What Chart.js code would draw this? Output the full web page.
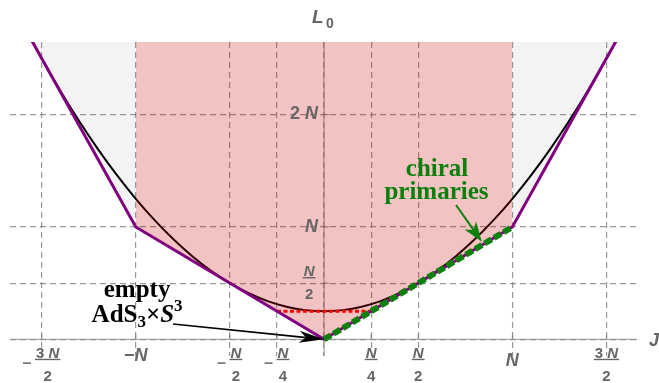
<!DOCTYPE html>
<html><head><meta charset="utf-8">
<script src="https://cdn.jsdelivr.net/npm/chart.js@4.4.0/dist/chart.umd.min.js"></script>
<style>html,body{margin:0;padding:0;background:#fff}canvas{display:block}</style>
</head><body>
<canvas id="c" width="659" height="383"></canvas>
<script>
// All values in units of N
const xGridValues = [-1.5, -1, -0.5, -0.25, 0, 0.25, 0.5, 1, 1.5];
const yGridValues = [0, 0.5, 1, 2];
const xTickValues = [-1.5, -1, -0.5, -0.25, 0.25, 0.5, 1, 1.5];
const xTickLabels = ['−3 N/2', '−N', '−N/2', '−N/4', 'N/4', 'N/2', 'N', '3 N/2'];
const yTickValues = [0.5, 1, 2];
const yTickLabels = ['N/2', 'N', '2 N'];

// unitarity / BPS boundary (purple)
const boundaryJ = [-1.7, -1, 0, 1, 1.7];
const boundaryL = [3.1, 1, 0, 1, 3.1];
// black curve
const curveJ = [-1.6,-1.5,-1.4,-1.3,-1.2,-1.1,-1.0,-0.9,-0.8,-0.7,-0.6,-0.5,-0.4,-0.3,-0.2,-0.1,0,
                0.1,0.2,0.3,0.4,0.5,0.6,0.7,0.8,0.9,1.0,1.1,1.2,1.3,1.4,1.5,1.6];
const curveL = [2.81,2.5,2.21,1.94,1.69,1.46,1.25,1.06,0.89,0.74,0.61,0.5,0.41,0.34,0.29,0.26,0.25,
                0.26,0.29,0.34,0.41,0.5,0.61,0.74,0.89,1.06,1.25,1.46,1.69,1.94,2.21,2.5,2.81];
// red dotted segment
const redJ = [-0.25, 0.25];
const redL = [0.25, 0.25];
// chiral primaries (green dashed)
const chiralJ = [0, 1];
const chiralL = [0, 1];
// shaded regions
const pinkJ = [-1, 0, 1];
const pinkL = [1, 0, 1];
const grayLeftJ = [-1.7, -1];
const grayLeftL = [3.1, 1];
const grayRightJ = [1, 1.7];
const grayRightL = [1, 3.1];
const regionTop = 3;

const pts = (xs, ys) => xs.map((x, i) => ({x, y: ys[i]}));

const LABEL_GRAY = '#666666';
const SANS = '"Liberation Sans", Arial, sans-serif';
const SERIF = '"Liberation Serif", "Times New Roman", serif';
const FRAC = 15;

function tokFont(ch, size) {
  return (ch === 'N' || ch === 'J' || ch === 'L' ? 'italic bold ' : 'bold ') + size + 'px ' + SANS;
}
function measureTok(ctx, text, size) {
  let w = 0;
  for (const ch of text) { ctx.font = tokFont(ch, size); w += ctx.measureText(ch).width; }
  return w;
}
function drawTok(ctx, text, size, x, y, align) {
  const w = measureTok(ctx, text, size);
  let s = align === 'center' ? x - w / 2 : align === 'right' ? x - w : x;
  ctx.textAlign = 'left'; ctx.textBaseline = 'middle'; ctx.fillStyle = LABEL_GRAY;
  for (const ch of text) { ctx.font = tokFont(ch, size); ctx.fillText(ch, s, y); s += ctx.measureText(ch).width; }
  return w;
}
function drawFraction(ctx, num, den, cx, barY) {
  const fw = Math.max(measureTok(ctx, num, FRAC), measureTok(ctx, den, FRAC)) + 2;
  drawTok(ctx, num, FRAC, cx, barY - 5.5, 'center');
  ctx.fillStyle = LABEL_GRAY;
  ctx.fillRect(cx - fw / 2, barY - 0.6, fw, 1.4);
  drawTok(ctx, den, FRAC, cx, barY + 17.5, 'center');
  return fw;
}
function drawArrow(ctx, x1, y1, x2, y2, color, lw, hl, hw) {
  const a = Math.atan2(y2 - y1, x2 - x1);
  const c = Math.cos(a), s = Math.sin(a);
  ctx.save();
  ctx.strokeStyle = color; ctx.fillStyle = color; ctx.lineWidth = lw;
  ctx.beginPath(); ctx.moveTo(x1, y1); ctx.lineTo(x2 - c * hl * 0.7, y2 - s * hl * 0.7); ctx.stroke();
  const bx = x2 - c * hl, by = y2 - s * hl;
  ctx.beginPath();
  ctx.moveTo(x2, y2);
  ctx.lineTo(bx - s * hw, by + c * hw);
  ctx.lineTo(x2 - c * hl * 0.72, y2 - s * hl * 0.72);
  ctx.lineTo(bx + s * hw, by - c * hw);
  ctx.closePath(); ctx.fill();
  ctx.restore();
}

const decor = {
  id: 'decor',
  beforeDatasetsDraw(chart) {
    const {ctx, chartArea: a, scales: {x, y}} = chart;
    const x0 = x.getPixelForValue(0), y0 = y.getPixelForValue(0);
    ctx.save();
    ctx.strokeStyle = 'rgba(140,140,140,0.75)'; ctx.lineWidth = 1.3;
    ctx.beginPath();
    ctx.moveTo(a.left, y0); ctx.lineTo(a.right, y0);
    ctx.moveTo(x0, a.top); ctx.lineTo(x0, a.bottom);
    ctx.stroke();
    ctx.strokeStyle = 'rgba(120,120,120,0.9)'; ctx.lineWidth = 1;
    ctx.beginPath();
    xTickValues.forEach(v => { const px = x.getPixelForValue(v); ctx.moveTo(px, y0); ctx.lineTo(px, y0 - 5); });
    yTickValues.forEach(v => { const py = y.getPixelForValue(v); ctx.moveTo(x0, py); ctx.lineTo(x0 + 5, py); });
    ctx.stroke();
    ctx.restore();
  },
  afterDatasetsDraw(chart) {
    const {ctx, scales: {x, y}} = chart;
    const x0 = x.getPixelForValue(0), y0 = y.getPixelForValue(0);
    ctx.save();
    // x tick labels
    xTickLabels.forEach((lab, i) => {
      const cx = x.getPixelForValue(xTickValues[i]);
      const neg = lab.startsWith('−');
      const body = neg ? lab.slice(1) : lab;
      if (body.includes('/')) {
        const [num, den] = body.split('/');
        const fw = Math.max(measureTok(ctx, num, FRAC), measureTok(ctx, den, FRAC)) + 2;
        const mw = neg ? 12 : 0;
        const left = cx - (mw + fw) / 2;
        if (neg) {
          ctx.fillStyle = LABEL_GRAY;
          ctx.fillRect(left, y0 + 23, mw - 4, 1.5);
        }
        drawFraction(ctx, num, den, left + mw + fw / 2, y0 + 20);
      } else {
        drawTok(ctx, lab, 18, cx, y0 + (neg ? 17 : 22), 'center');
      }
    });
    // y tick labels
    yTickLabels.forEach((lab, i) => {
      const py = y.getPixelForValue(yTickValues[i]);
      if (lab.includes('/')) {
        const [num, den] = lab.split('/');
        drawFraction(ctx, num, den, x0 - 15, py - 5.5);
      } else {
        drawTok(ctx, lab, 18, x0 - 6, py, 'right');
      }
    });
    // axis titles
    drawTok(ctx, 'J', 18, x.getPixelForValue(1.726), y0 + 2, 'left');
    ctx.fillStyle = LABEL_GRAY;
    ctx.font = 'italic bold 19px ' + SANS; ctx.textBaseline = 'alphabetic'; ctx.textAlign = 'left';
    ctx.fillText('L', x0 - 12, 23);
    ctx.font = 'bold 14px ' + SANS;
    ctx.fillText('0', x0 + 2, 28);

    // annotations
    ctx.textBaseline = 'alphabetic';
    ctx.fillStyle = '#000';
    ctx.font = 'bold 25px ' + SERIF; ctx.textAlign = 'center';
    ctx.fillText('empty', x.getPixelForValue(-0.993), y.getPixelForValue(0.376));
    // AdS3 x S3
    const runs = [
      {t: 'AdS', f: 'bold 25px ' + SERIF, dy: 0},
      {t: '3', f: 'bold 17px ' + SERIF, dy: 5},
      {t: '×', f: 'bold 25px ' + SERIF, dy: 0},
      {t: 'S', f: 'italic bold 25px ' + SERIF, dy: 0},
      {t: '3', f: 'bold 17px ' + SERIF, dy: -11}
    ];
    let tw = 0;
    runs.forEach(r => { ctx.font = r.f; r.w = ctx.measureText(r.t).width; tw += r.w; });
    let sx = x.getPixelForValue(-0.993) - tw / 2;
    const by = y.getPixelForValue(0.154);
    ctx.textAlign = 'left';
    runs.forEach(r => { ctx.font = r.f; ctx.fillText(r.t, sx, by + r.dy); sx += r.w; });

    ctx.fillStyle = '#0b7f0b';
    ctx.font = 'bold 25px ' + SERIF; ctx.textAlign = 'center';
    ctx.fillText('chiral', x.getPixelForValue(0.600), y.getPixelForValue(1.453));
    ctx.fillText('primaries', x.getPixelForValue(0.597), y.getPixelForValue(1.248));

    drawArrow(ctx, x.getPixelForValue(-0.802), y.getPixelForValue(0.136),
              x.getPixelForValue(0), y.getPixelForValue(0), '#000', 1.6, 25, 6);
    drawArrow(ctx, x.getPixelForValue(0.701), y.getPixelForValue(1.195),
              x.getPixelForValue(0.838), y.getPixelForValue(0.868), '#0b7f0b', 2, 20, 7);
    ctx.restore();
  }
};

const gridOpts = {color: 'rgba(110,110,110,0.7)', lineWidth: 1.2, drawTicks: false};

new Chart(document.getElementById('c'), {
  type: 'line',
  data: {
    datasets: [
      {data: pts(grayLeftJ, grayLeftL), borderWidth: 0, pointRadius: 0, backgroundColor: 'rgba(120,120,120,0.09)', fill: {value: regionTop}, order: 10},
      {data: pts(grayRightJ, grayRightL), borderWidth: 0, pointRadius: 0, backgroundColor: 'rgba(120,120,120,0.09)', fill: {value: regionTop}, order: 10},
      {data: pts(curveJ, curveL), borderColor: '#000', borderWidth: 2, pointRadius: 0, fill: false, cubicInterpolationMode: 'monotone', order: 9},
      {data: pts(pinkJ, pinkL), borderWidth: 0, pointRadius: 0, backgroundColor: 'rgba(205,0,0,0.24)', fill: {value: regionTop}, order: 8},
      {data: pts(redJ, redL), borderColor: '#f00', borderWidth: 3, borderDash: [4, 2.5], pointRadius: 0, fill: false, order: 7},
      {data: pts(boundaryJ, boundaryL), borderColor: '#800080', borderWidth: 3, pointRadius: 0, fill: false, order: 6},
      {data: pts(chiralJ, chiralL), borderColor: '#0b800b', borderWidth: 6, borderDash: [8, 3], borderCapStyle: 'butt', pointRadius: 0, fill: false, order: 5}
    ]
  },
  options: {
    responsive: false, animation: false, devicePixelRatio: 1, events: [],
    layout: {padding: {left: 10, right: 22, top: 42, bottom: 27}},
    plugins: {legend: {display: false}, tooltip: {enabled: false}},
    scales: {
      x: {type: 'linear', min: -1.668, max: 1.662,
          ticks: {display: false}, grid: gridOpts, border: {display: false, dash: [6, 4]},
          afterBuildTicks: s => { s.ticks = xGridValues.map(v => ({value: v})); }},
      y: {type: 'linear', min: -0.148, max: 2.645,
          ticks: {display: false}, grid: gridOpts, border: {display: false, dash: [6, 4]},
          afterBuildTicks: s => { s.ticks = yGridValues.map(v => ({value: v})); }}
    }
  },
  plugins: [decor]
});
</script>
</body></html>
